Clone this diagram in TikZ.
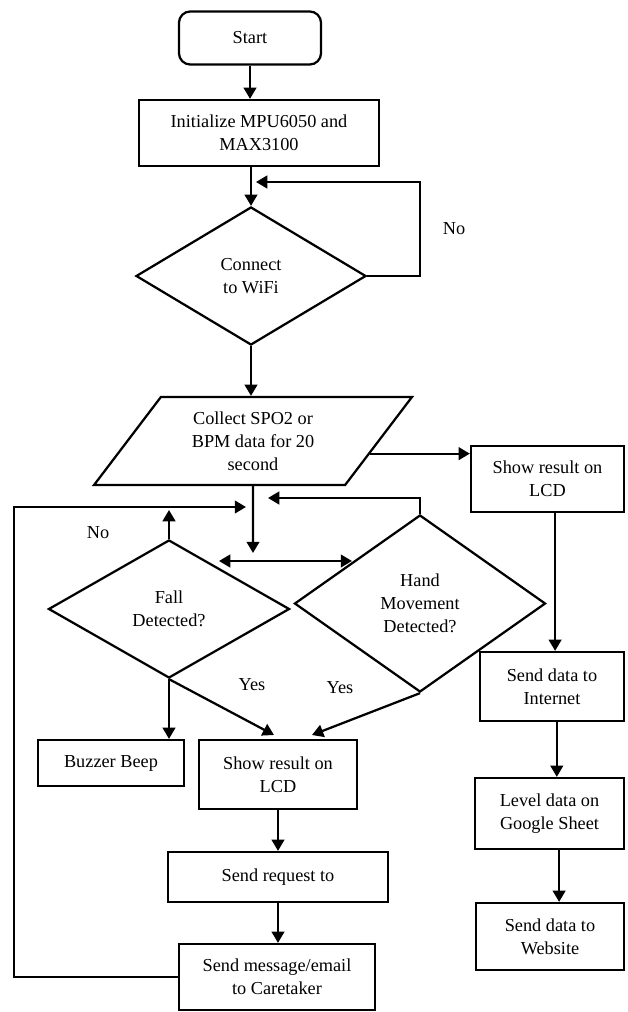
\documentclass[tikz,border=0pt]{standalone}
\usepackage{fontspec}
\setmainfont{Liberation Serif}
\usetikzlibrary{shapes.geometric, arrows.meta, positioning, calc}

\begin{document}
\begin{tikzpicture}[
    x=0.025cm, y=-0.025cm,
    every node/.style={font=\fontsize{13}{16.5}\selectfont},
    term/.style={rectangle, rounded corners=8pt, draw, line width=1.6pt, align=center, inner sep=2pt},
    box/.style={rectangle, draw, line width=1.6pt, align=center, inner sep=2pt},
    decision/.style={diamond, draw, line width=1.6pt, align=center, inner sep=0pt, aspect=1.6},
    io/.style={trapezium, trapezium left angle=54.4, trapezium right angle=125.6, trapezium stretches=true, draw, line width=1.6pt, align=center, inner sep=2pt},
    arrow/.style={-{Triangle[length=8pt, width=9pt]}, line width=1.6pt},
    twoway/.style={{Triangle[length=8pt, width=9pt]}-{Triangle[length=8pt, width=9pt]}, line width=1.6pt},
    lbl/.style={inner sep=0pt}
]
    \useasboundingbox (0,0) rectangle (627,1012);

    \node[term, minimum width=3.55cm, minimum height=1.325cm] (start) at (250,38) {Start};
    \node[box, minimum width=6cm, minimum height=1.65cm] (init) at (259,133) {Initialize MPU6050 and\\MAX3100};
    \node[decision, minimum width=5.75cm, minimum height=3.45cm] (wifi) at (251,276) {Connect\\to WiFi};
    \node[io, minimum width=7.95cm, minimum height=2.2cm] (collect) at (253,441) {Collect SPO2 or\\BPM data for 20\\second};

    \node[box, minimum width=3.825cm, minimum height=1.65cm] (lcdR) at (547.5,479) {Show result on\\LCD};
    \node[box, minimum width=3.6cm, minimum height=1.725cm] (internet) at (552,686.5) {Send data to\\Internet};
    \node[box, minimum width=3.725cm, minimum height=1.775cm] (sheet) at (549.5,813.5) {Level data on\\Google Sheet};
    \node[box, minimum width=3.7cm, minimum height=1.675cm] (website) at (550,936.5) {Send data to\\Website};

    \node[decision, minimum width=6.025cm, minimum height=3.45cm] (fall) at (169,609) {Fall\\Detected?};
    \node[decision, minimum width=6.275cm, minimum height=4.425cm] (hand) at (420,603.5) {Hand\\Movement\\Detected?};
    \node[box, minimum width=3.65cm, minimum height=1.15cm] (buzzer) at (111,763) {Buzzer Beep};
    \node[box, minimum width=3.95cm, minimum height=1.725cm] (lcdM) at (278,774.5) {Show result on\\LCD};
    \node[box, minimum width=5.5cm, minimum height=1.25cm] (request) at (278,877) {Send request to};
    \node[box, minimum width=4.9cm, minimum height=1.65cm] (message) at (277,977) {Send message/email\\to Caretaker};

    \node[lbl] (noWifi) at (454,229) {No};
    \node[lbl] (noFall) at (98,533) {No};
    \node[lbl] (yesFall) at (252,685) {Yes};
    \node[lbl] (yesHand) at (340,688) {Yes};

    \coordinate (wifiIn) at (256,182);
    \coordinate (mainIn) at (246,507);
    \coordinate (handIn) at (268,498);
    \coordinate (fallUp) at (169,510);
    \coordinate (split) at (253,553);
    \coordinate (sideL) at (219,561);
    \coordinate (sideR) at (352,561);
    \coordinate (lcdInL) at (274,735);
    \coordinate (lcdInR) at (312,735);
    \coordinate (collectOut) at ($(collect.bottom right corner)!0.36!(collect.top right corner)$);
    \coordinate (lcdOut) at ([xshift=0.19cm]lcdR.south);
    \coordinate (netOut) at ([xshift=0.12cm]internet.south);
    \coordinate (sheetOut) at ([xshift=0.24cm]sheet.south);

    \draw[arrow] (start) -- (start |- init.north);
    \draw[arrow] (init.south -| wifi) -- (wifi.north);
    \draw[arrow] (wifi.east) -- ++(53,0) |- (wifiIn);
    \draw[arrow] (wifi.south) -- (wifi.south |- collect.north);
    \draw[arrow] (collectOut) -- (collectOut -| lcdR.west);

    \draw[arrow] (lcdOut) -- (lcdOut |- internet.north);
    \draw[arrow] (netOut) -- (netOut |- sheet.north);
    \draw[arrow] (sheetOut) -- (sheetOut |- website.north);

    \draw[arrow] (collect.south) -- (split);
    \draw[twoway] (sideL) -- (sideR);
    \draw[arrow] (fall.north) -- (fallUp);
    \draw[arrow] (hand.north) |- (handIn);
    \draw[arrow] (message.west) -- ++(-164,0) |- (mainIn);

    \draw[arrow] (fall.south) -- (fall.south |- buzzer.north);
    \draw[arrow] (fall.south) -- (lcdInL);
    \draw[arrow] (hand.south) -- (lcdInR);
    \draw[arrow] (lcdM.south) -- (request.north);
    \draw[arrow] (request.south) -- (request.south |- message.north);
\end{tikzpicture}
\end{document}
